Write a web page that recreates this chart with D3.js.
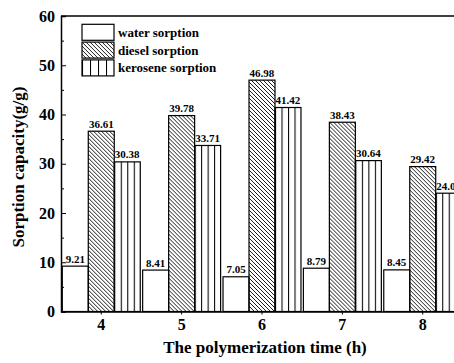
<!DOCTYPE html>
<html>
<head>
<meta charset="utf-8">
<script src="https://cdn.jsdelivr.net/npm/d3@7"></script>
<style>
  body { margin: 0; background: #fff; }
  svg { display: block; font-family: "Liberation Serif", "Times New Roman", serif; font-weight: bold; }
</style>
</head>
<body>
<svg id="chart" width="454" height="363"></svg>
<script>
// data
let times = ["4", "5", "6", "7", "8"];
let seriesNames = ["water sorption", "diesel sorption", "kerosene sorption"];
let water = [9.21, 8.41, 7.05, 8.79, 8.45];
let diesel = [36.61, 39.78, 46.98, 38.43, 29.42];
let kerosene = [30.38, 33.71, 41.42, 30.64, 24.02];
let yTicks = [0, 10, 20, 30, 40, 50, 60];
let yMinor = [5, 15, 25, 35, 45, 55];

let width = 454,
  height = 363;
let plotLeft = 61, plotRight = 463, plotTop = 16, plotBottom = 311.5;
let serif = '"Liberation Serif", "Times New Roman", serif';

let svg = d3.select("#chart");

// hatch patterns
let defs = svg.append("defs");
defs.append("pattern")
  .attr("id", "diag")
  .attr("patternUnits", "userSpaceOnUse")
  .attr("width", 4).attr("height", 4)
  .append("path")
  .attr("d", "M-1,-1 L5,5 M3,-1 L5,1 M-1,3 L1,5")
  .attr("stroke", "black")
  .attr("stroke-width", 0.9);

// vertical lines: bar split into quarters
let vp = defs.append("pattern")
  .attr("id", "vert")
  .attr("patternUnits", "objectBoundingBox")
  .attr("width", 0.25).attr("height", 1);
vp.append("line")
  .attr("x1", 0.5).attr("x2", 0.5)
  .attr("y1", 0).attr("y2", 1000)
  .attr("stroke", "black")
  .attr("stroke-width", 1.1);

let fills = ["white", "url(#diag)", "url(#vert)"];

let rows = times.map((t, i) => ({ time: t, values: [water[i], diesel[i], kerosene[i]] }));

let x0 = d3.scaleBand()
  .domain(times)
  .range([plotLeft, plotRight])
  .paddingInner(0.03)
  .paddingOuter(0.016);

let x1 = d3.scaleBand()
  .domain([0, 1, 2])
  .range([0, x0.bandwidth()]);

let y = d3.scaleLinear()
  .domain([0, 60])
  .range([plotBottom, plotTop]);

// bars
let groups = svg.append("g")
  .selectAll("g")
  .data(rows)
  .enter()
  .append("g")
  .attr("transform", (d) => "translate(" + x0(d.time) + ",0)");

groups.selectAll("rect")
  .data((d) => d.values)
  .enter()
  .append("rect")
  .attr("x", (d, i) => x1(i))
  .attr("y", (d) => y(d))
  .attr("width", x1.bandwidth())
  .attr("height", (d) => y(0) - y(d))
  .attr("fill", (d, i) => fills[i])
  .attr("stroke", "black")
  .attr("stroke-width", 1.2);

groups.selectAll("text")
  .data((d) => d.values)
  .enter()
  .append("text")
  .attr("x", (d, i) => x1(i) + x1.bandwidth() / 2)
  .attr("y", (d) => y(d) - 3.5)
  .attr("text-anchor", "middle")
  .style("font-size", "11px")
  .text((d) => d3.format(".2f")(d));

// y axis, ticks point inward
let yAxis = svg.append("g")
  .attr("transform", "translate(" + plotLeft + ",0)")
  .call(d3.axisLeft(y).tickValues(yTicks).tickSize(-5).tickPadding(6));
yAxis.selectAll("text")
  .style("font-family", serif)
  .style("font-weight", "bold")
  .style("font-size", "16px");

svg.append("g")
  .attr("transform", "translate(" + plotLeft + ",0)")
  .call(d3.axisLeft(y).tickValues(yMinor).tickSize(-3).tickFormat(""))
  .select(".domain").remove();

// x axis
let xAxis = svg.append("g")
  .attr("transform", "translate(0," + plotBottom + ")")
  .call(d3.axisBottom(x0).tickSize(3).tickSizeOuter(0).tickPadding(4));
xAxis.selectAll("text")
  .style("font-family", serif)
  .style("font-weight", "bold")
  .style("font-size", "16px");

svg.selectAll(".domain").attr("stroke-width", 1.5);

// frame
svg.append("line")
  .attr("x1", plotLeft).attr("x2", plotRight)
  .attr("y1", plotTop).attr("y2", plotTop)
  .attr("stroke", "black")
  .attr("stroke-width", 1.5);
svg.append("line")
  .attr("x1", plotRight).attr("x2", plotRight)
  .attr("y1", plotTop).attr("y2", plotBottom)
  .attr("stroke", "black")
  .attr("stroke-width", 1.5);

// axis titles
svg.append("text")
  .attr("x", 265)
  .attr("y", 353)
  .attr("text-anchor", "middle")
  .style("font-size", "17px")
  .text("The polymerization time (h)");

svg.append("text")
  .attr("transform", "translate(24,167) rotate(-90)")
  .attr("text-anchor", "middle")
  .style("font-size", "17px")
  .text("Sorption capacity(g/g)");

// legend
let legend = svg.append("g")
  .selectAll("g")
  .data(seriesNames)
  .enter()
  .append("g")
  .attr("transform", (d, i) => "translate(82," + (24.3 + i * 17.8) + ")");

legend.append("rect")
  .attr("width", 32)
  .attr("height", 16)
  .attr("fill", (d, i) => fills[i])
  .attr("stroke", "black")
  .attr("stroke-width", 1.2);

legend.append("text")
  .attr("x", 36)
  .attr("y", 12.5)
  .style("font-size", "13px")
  .text((d) => d);
</script>
</body>
</html>
